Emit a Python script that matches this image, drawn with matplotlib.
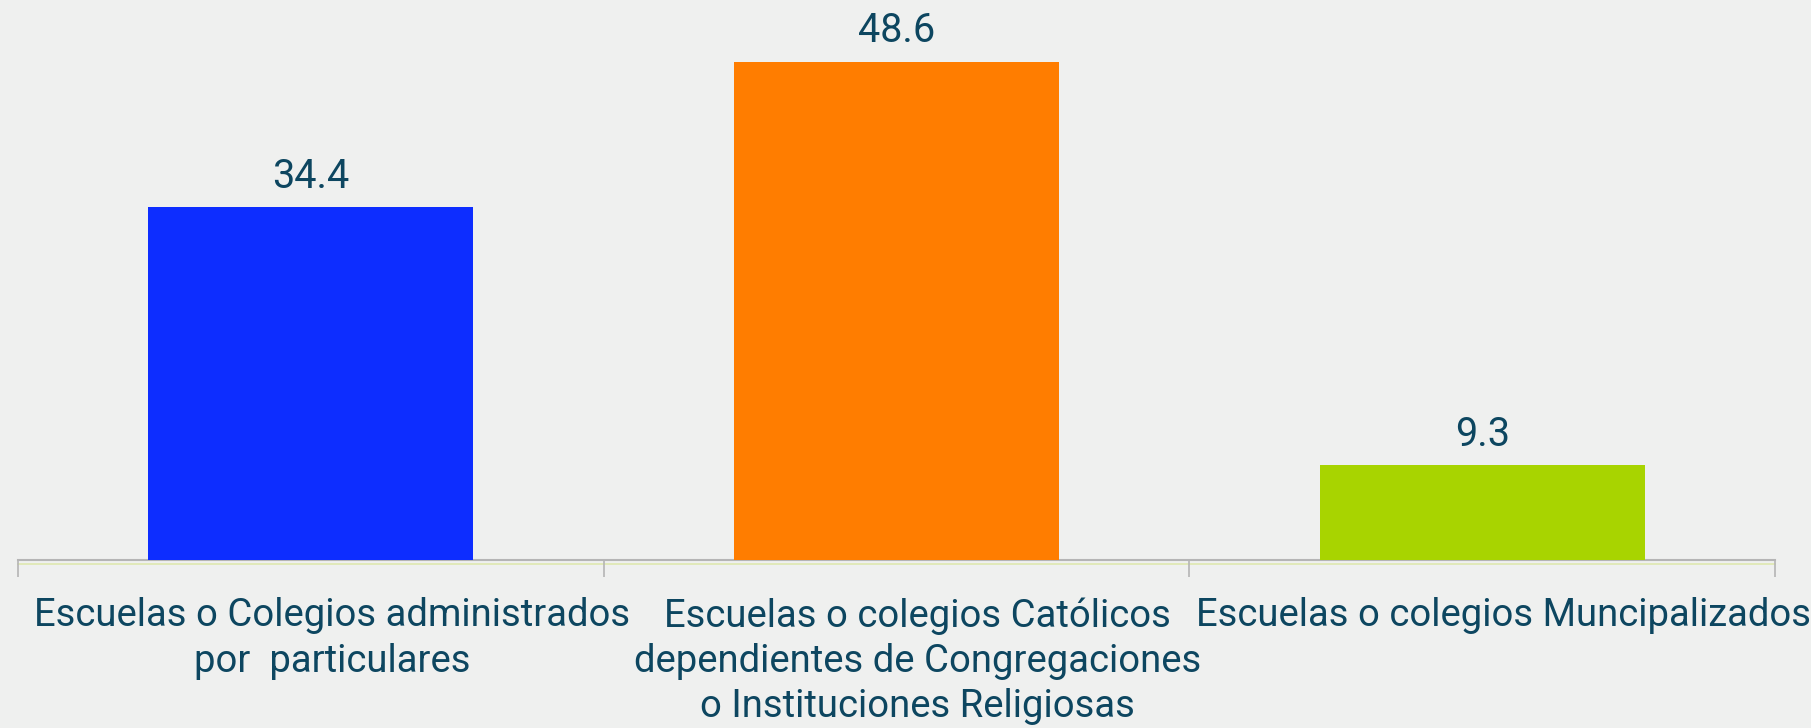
import numpy as np
import matplotlib.pyplot as plt
import matplotlib.transforms as mtransforms

categorias = [
    "Escuelas o Colegios administrados\npor  particulares",
    "Escuelas o colegios Católicos\ndependientes de Congregaciones\no Instituciones Religiosas",
    "Escuelas o colegios Muncipalizados",
]
valores = [34.4, 48.6, 9.3]
colores = ["#0d2dff", "#ff7d00", "#a8d400"]

fondo = "#eff0ef"
texto = "#0d4660"
plt.rcParams['font.family'] = ['Roboto', 'DejaVu Sans']

fig = plt.figure(figsize=(18.11, 7.28), dpi=100, facecolor=fondo)
ax = fig.add_axes([18 / 1811, 168 / 728, 1757 / 1811, 560 / 728])
ax.set_facecolor(fondo)

x = np.arange(len(valores))
bars = ax.bar(x, valores, width=0.555, color=colores, zorder=3)
for b, v in zip(bars, valores):
    ax.annotate(f"{v}", (b.get_x() + b.get_width() / 2, v), xytext=(0, 8),
                textcoords="offset points", ha="center", va="bottom",
                fontsize=28.5, color=texto)

ax.set_xlim(-0.5, len(valores) - 0.5)
ax.set_ylim(0, 54.6)

for s in ["top", "right", "left"]:
    ax.spines[s].set_visible(False)
ax.spines["bottom"].set_color("#b5b5b5")
ax.spines["bottom"].set_linewidth(1.5)
ax.axhline(-0.35, color="#dfe8b0", lw=1.2, clip_on=False, zorder=1)

ax.set_yticks([])
ax.set_xticks(x)
ax.set_xticklabels(categorias, fontsize=27.5, color=texto, linespacing=1.28)
ax.tick_params(axis="x", which="major", length=0, pad=27)
ax.set_xticks(np.arange(-0.5, len(valores)), minor=True)
ax.tick_params(axis="x", which="minor", length=12, color="#b5b5b5", width=1.2)

desplaza = mtransforms.ScaledTranslation(0.21, 0, fig.dpi_scale_trans)
for lab in ax.get_xticklabels():
    lab.set_transform(lab.get_transform() + desplaza)

fig.savefig("out.png", dpi=100, facecolor=fondo)
